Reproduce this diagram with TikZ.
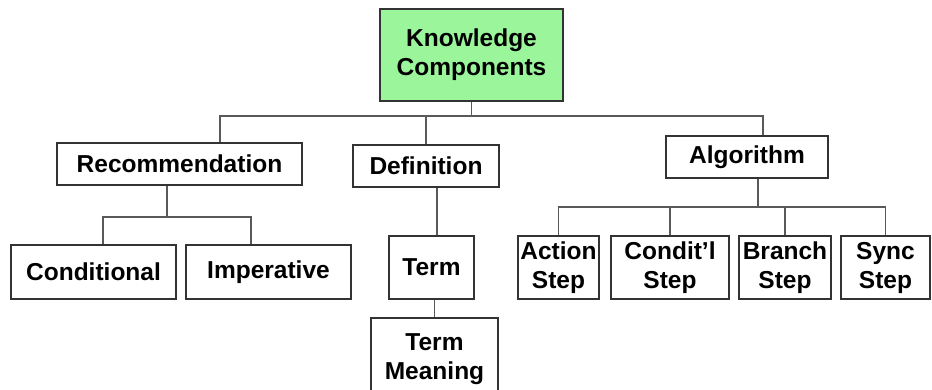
\documentclass[tikz,border=0pt]{standalone}
\usepackage{fontspec}
\setmainfont{Liberation Sans}
\definecolor{kcgreen}{RGB}{155,246,155}
\tikzset{
  box/.style={draw=black!80, line width=1.3pt, inner sep=0pt, align=center,
    font=\fontsize{24.5}{29}\selectfont\bfseries},
  link/.style={draw=black!65, line width=1.3pt}
}
\begin{document}
\begin{tikzpicture}[x=1pt,y=-1pt]
\useasboundingbox (0,0) rectangle (932,389);

\node[box, fill=kcgreen, minimum width=183pt, minimum height=92pt] (root) at (471.5,55) {Knowledge\\Components};

\node[box, minimum width=245pt, minimum height=42pt] (rec) at (179.5,164) {Recommendation};
\node[box, minimum width=146pt, minimum height=42pt] (def) at (426,166) {Definition};
\node[box, minimum width=162pt, minimum height=42pt] (alg) at (747,157) {Algorithm};

\node[box, minimum width=165pt, minimum height=54pt] (cond) at (93.5,272) {Conditional};
\node[box, minimum width=165pt, minimum height=54pt] (imp) at (268.5,272) {Imperative};

\node[box, minimum width=85pt, minimum height=63pt] (term) at (431.5,267.5) {Term};
\node[box, minimum width=127pt, minimum height=100pt, text height=61pt, text depth=39pt] (meaning) at (434.5,368) {Term\\Meaning};

\node[box, minimum width=81pt, minimum height=63pt] (action) at (558.5,267.5) {Action\\Step};
\node[box, minimum width=118pt, minimum height=63pt] (cstep) at (670,267.5) {Condit’l\\Step};
\node[box, minimum width=92pt, minimum height=63pt] (branch) at (785,267.5) {Branch\\Step};
\node[box, minimum width=89pt, minimum height=63pt] (sync) at (885.5,267.5) {Sync\\Step};

\coordinate (bus) at (476,116);
\coordinate (recbus) at (167,217);
\coordinate (algbus) at (758,207);

% top level
\path[link] (root.south) -- (root.south |- bus);
\path[link] ([xshift=40.5pt]rec.north) |- (bus) -| ([xshift=16pt]alg.north);
\path[link] (def.north) -- (def.north |- bus);

% recommendation
\path[link] (rec.south -| recbus) -- (recbus);
\path[link] ([xshift=9.5pt]cond.north) |- (recbus) -| ([xshift=-17.5pt]imp.north);

% definition
\path[link] ([xshift=5.5pt]term.north) -- ([xshift=5.5pt]term.north |- def.south);
\path[link] (meaning.north) -- (meaning.north |- term.south);

% algorithm
\path[link] (alg.south -| algbus) -- (algbus);
\path[link] (action.north) |- (algbus) -| (sync.north);
\path[link] (cstep.north) -- (cstep.north |- algbus);
\path[link] (branch.north) -- (branch.north |- algbus);
\end{tikzpicture}
\end{document}
